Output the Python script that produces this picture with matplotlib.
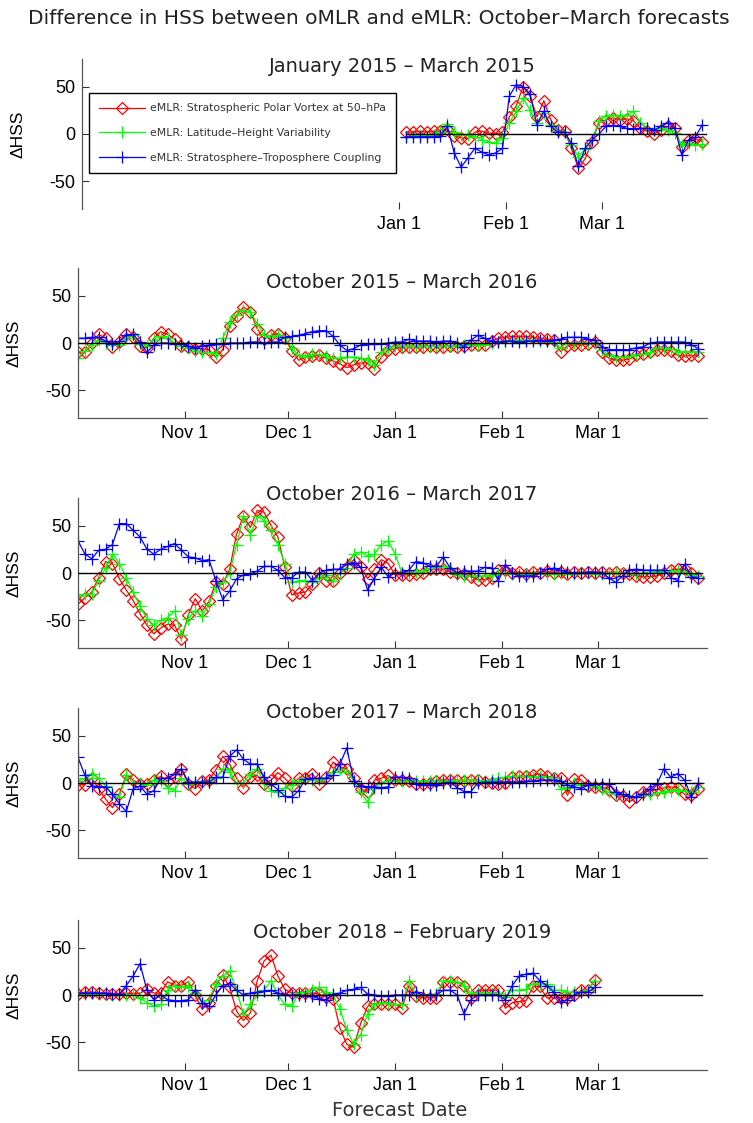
import matplotlib
matplotlib.use('Agg')
import matplotlib.pyplot as plt
import numpy as np

# x axis = days since 1 October
tick_days = [31, 61, 92, 123, 151]
tick_labels = ['Nov 1', 'Dec 1', 'Jan 1', 'Feb 1', 'Mar 1']

titles = ['January 2015 \u2013 March 2015',
          'October 2015 \u2013 March 2016',
          'October 2016 \u2013 March 2017',
          'October 2017 \u2013 March 2018',
          'October 2018 \u2013 February 2019']

names = ['eMLR: Stratospheric Polar Vortex at 50\u2013hPa',
         'eMLR: Latitude\u2013Height Variability',
         'eMLR: Stratosphere\u2013Troposphere Coupling']

# first day of each record (values every 2 days)
start_days = [94, 0, 0, 0, 0]

# ---- Jan 2015 - Mar 2015
red_1 = [2, 2, 3, 2, 3, 3, 5, -2, -4, -5,
         2, 3, 1, 0, 2, 18, 30, 50, 40, 18,
         35, 15, 4, 3, -15, -36, -26, -8, 12, 15,
         17, 15, 16, 14, 6, 3, 0, 4, 8, 6,
         -14, -6, -5, -8]
green_1 = [-3, -2, -1, -2, -1, 2, 11, 2, -1, -1,
           -3, -6, -8, -10, -4, 12, 24, 38, 25, 12,
           22, 9, 3, 2, -12, -24, -16, -6, 14, 19,
           20, 19, 20, 24, 12, 6, 4, 6, 4, 1,
           -12, -10, -12, -11]
blue_1 = [-3, -3, -3, -3, -3, -2, 8, -20, -35, -25,
          -15, -19, -22, -20, -15, 40, 52, 50, 42, 10,
          24, 8, 2, 2, -10, -34, -15, -6, 0, 8,
          9, 8, 6, 5, 6, 6, 4, 8, 12, 6,
          -22, -6, -3, 10]

# ---- Oct 2015 - Mar 2016
red_2 = [-9, -10, 0, 9, 5, -4, 1, 10, 6, -3,
         -5, 5, 12, 9, 4, -3, -4, -6, -6, -7,
         -15, -7, 18, 28, 38, 33, 15, 4, 8, 10,
         5, -8, -18, -15, -14, -13, -16, -19, -22, -26,
         -23, -21, -21, -27, -15, -7, -6, -4, -4, -4,
         -4, -3, -4, -4, -3, -4, -3, -2, -2, -2,
         2, 5, 6, 7, 7, 7, 6, 5, 4, 3,
         -9, -3, -2, -2, -1, 1, -9, -16, -18, -18,
         -17, -13, -12, -10, -7, -7, -8, -13, -14, -13,
         -14]
green_2 = [-16, -8, -2, 3, 0, -2, -2, 5, 8, -1,
           -3, 3, 7, 5, 0, -3, -5, -8, -10, -10,
           -12, 5, 22, 30, 35, 33, 20, 8, 6, 8,
           5, -5, -13, -15, -12, -12, -14, -16, -16, -15,
           -15, -16, -18, -23, -10, -5, -3, -3, -3, -3,
           -3, -3, -3, -3, -3, -3, -2, -2, -2, -2,
           0, 1, 2, 3, 3, 3, 3, 2, 2, 1,
           -5, 0, 0, 0, 0, 0, -7, -13, -15, -15,
           -14, -12, -12, -10, -5, -5, -6, -9, -9, -9,
           -9]
blue_2 = [5, 5, 6, 6, 2, -1, 2, 8, 9, 1,
          -10, -2, 0, 0, -1, -1, -3, -5, -3, -2,
          -1, -1, 0, 0, 0, 1, 1, 0, 1, 1,
          6, 7, 8, 10, 12, 13, 13, 7, -2, -8,
          -6, -2, -1, -1, -1, 0, 1, 1, 4, 2,
          2, 2, 1, 2, 2, 0, -4, 3, 8, 5,
          2, 1, 2, 2, 1, 2, 2, 3, 2, 3,
          4, 6, 6, 6, 4, 3, -4, -7, -7, -7,
          -7, -5, -4, 0, 1, 1, 1, 1, 1, -2,
          -6]

# ---- Oct 2016 - Mar 2017
red_3 = [-33, -26, -20, -5, 12, 10, -6, -18, -29, -43,
         -55, -64, -58, -54, -55, -70, -44, -27, -40, -30,
         -10, -12, 4, 41, 60, 48, 66, 64, 50, 38,
         6, -23, -21, -20, -12, 0, -8, -8, 0, 6,
         14, 6, -6, 4, 14, 10, -2, -2, -2, -1,
         0, 4, 4, 4, 1, 0, -1, -4, -7, -7,
         -5, 3, 3, 0, 1, -1, 1, 0, 2, 0,
         1, -1, 1, 0, 1, 0, 1, 0, 1, 0,
         -1, -3, -4, -4, -3, 0, 3, 4, 4, 0,
         -5]
green_3 = [-24, -22, -22, -8, 5, 20, 10, -5, -20, -35,
           -48, -55, -50, -47, -40, -65, -48, -40, -45, -33,
           -15, -10, 0, 30, 60, 40, 60, 55, 45, 30,
           10, -10, -8, -8, -10, -5, -2, -8, 0, 5,
           20, 22, 18, 20, 30, 34, 20, 0, 0, 1,
           2, 5, 6, 7, 5, -2, -3, -3, -3, -3,
           -2, 0, 0, -1, -1, -1, 0, 0, -1, -1,
           0, -1, -1, 0, 0, -1, -1, 0, 0, 0,
           0, -1, 0, 1, 1, 2, 2, 2, 1, -2,
           -3]
blue_3 = [34, 20, 15, 24, 25, 30, 52, 52, 45, 38,
          25, 20, 25, 28, 31, 24, 17, 16, 13, 14,
          -8, -28, -19, -6, -2, -1, 2, 7, 7, 3,
          -5, -5, 1, 1, -8, 0, 3, 4, 4, 9,
          11, 6, -18, -6, 6, -4, 0, 0, 3, 12,
          11, 7, 7, 17, 5, 0, 2, 2, 2, 6,
          5, -8, 8, 0, -3, -3, -3, 0, 4, 5,
          3, 1, 0, 0, 1, 1, 0, -5, -10, -3,
          3, 4, 3, 3, 3, 3, -5, -8, 9, -4,
          -5]

# ---- Oct 2017 - Mar 2018
red_4 = [-2, -2, 5, -6, -17, -26, -12, 9, 3, -1,
         -1, 3, 7, 2, 6, 15, -1, -6, 2, 3,
         14, 28, 20, 5, -5, 6, 8, -1, 3, 11,
         5, -3, 5, 5, 10, -1, 6, 22, 17, 15,
         5, -6, -10, 3, 5, 8, 3, 3, 2, -1,
         -1, 0, 2, 3, 3, 3, 2, 3, 3, 1,
         0, -1, 0, 6, 7, 7, 8, 10, 7, 5,
         5, -13, 4, 3, -3, -4, -4, -7, -13, -14,
         -20, -15, -9, -8, -7, -5, -4, -5, -12, -13,
         -6]
green_4 = [2, 5, 10, 5, -3, -12, -15, 8, 0, 0,
           -2, 3, 2, -5, -8, 5, -1, 0, 2, 0,
           5, 15, 12, 0, 0, 10, 15, 0, -8, -10,
           -5, -2, 2, 5, 3, 3, 5, 12, 15, 12,
           2, -10, -20, -5, 0, 2, 2, 2, 2, 2,
           2, 2, 2, 2, 2, 3, 3, 3, 3, 2,
           3, 5, 6, 7, 7, 7, 6, 7, 6, 5,
           -6, -5, 0, -2, -3, -3, -6, -10, -12, -12,
           -14, -15, -13, -12, -11, -9, -8, -7, -8, -10,
           -4]
blue_4 = [27, 8, -3, -4, -4, -12, -22, -30, -6, -3,
          -12, -8, 5, 5, 9, 15, 1, 1, 1, 1,
          6, 6, 28, 35, 25, 20, 20, 6, -1, -7,
          -14, -15, -8, 4, 5, 5, 5, 8, 20, 37,
          2, -3, -4, -4, -5, -4, 6, 6, 5, -1,
          -2, -2, -2, 0, 1, -5, -9, -9, 0, 1,
          1, 1, 1, 1, 1, 2, 2, 3, 3, 3,
          2, -2, -4, -6, -2, -1, -1, -1, -10, -12,
          -14, -15, -12, -6, -1, 15, 6, 10, 3, -15,
          0]

# ---- Oct 2018 - Feb 2019
red_5 = [1, 3, 3, 2, 1, 1, 1, 2, 1, 2,
         6, 2, 2, 14, 10, 10, 14, 0, -15, -8,
         10, 21, 8, -17, -27, -19, 15, 36, 42, 20,
         6, 2, 2, 2, 2, 1, -2, -4, -35, -52,
         -55, -30, -12, -9, -9, -9, -9, -14, 10, -1,
         -3, -3, -3, 14, 14, 14, 10, -3, 5, 5,
         5, 5, -14, -8, -7, -6, 9, 9, -3, -3,
         -3, -3, 0, 5, 5, 16]
green_5 = [1, 1, 2, 1, 1, 0, 0, 0, 0, -3,
           -8, -12, -10, 5, 10, 8, 10, 2, -8, -5,
           12, 20, 25, 5, -20, -10, 0, 5, 15, 0,
           -10, -12, 2, 3, 5, 8, 3, 0, -15, -37,
           -52, -42, -20, -10, -8, -8, -10, -10, 15, 0,
           0, 0, 1, 15, 15, 14, 10, 2, 2, 2,
           2, 2, -2, 5, 5, 6, 12, 12, 12, 5,
           5, 3, 3, 3, 5, 15]
blue_5 = [2, 2, 2, 2, 2, 1, 1, 10, 20, 33,
          5, -5, 0, -5, -6, -6, -5, 5, -8, -12,
          0, 10, 12, 5, 0, 2, 3, 4, 5, 2,
          0, 0, 0, -1, -1, -4, -5, 1, 2, 5,
          6, 8, 1, 0, -1, -1, 0, 0, 0, 3,
          0, 0, 0, 5, 5, 0, -20, -5, 0, 0,
          0, 0, -5, 10, 20, 22, 23, 15, 10, 3,
          -7, -5, 0, 3, 3, 8]

reds = [red_1, red_2, red_3, red_4, red_5]
greens = [green_1, green_2, green_3, green_4, green_5]
blues = [blue_1, blue_2, blue_3, blue_4, blue_5]

# axes boxes in pixels (left, bottom-from-top, right) and title centres
W, H = 753, 1123
boxes = [(82, 209, 711), (78, 418, 707), (78, 648, 707), (78, 858, 707), (78, 1070, 707)]
title_y = [66, 282, 495, 712, 932]
ax_h = 150

plt.rcParams['font.family'] = ['DejaVu Sans']
fig = plt.figure(figsize=(W / 100, H / 100), dpi=100)

fig.text(379 / W, 1 - 19 / H, 'Difference in HSS between oMLR and eMLR: October\u2013March forecasts',
         ha='center', va='center', fontsize=14.5, color='#222222')

for i in range(5):
    l, b, r = boxes[i]
    ax = fig.add_axes([l / W, 1 - b / H, (r - l) / W, ax_h / H])
    x0 = start_days[i]
    for vals, col, mk, ms in [(reds[i], '#ff0000', 'D', 6.5),
                              (greens[i], '#00ff00', '+', 8.5),
                              (blues[i], '#0000ff', '+', 8.5)]:
        xs = x0 + 2 * np.arange(len(vals))
        ax.plot(xs, vals, color=col, marker=mk, markersize=ms, markerfacecolor='none',
                markeredgewidth=0.9, linewidth=0.9)
    ax.plot([x0, 181], [0, 0], color='k', linewidth=1, zorder=5)
    ax.set_xlim(0, 182.5)
    ax.set_ylim(-79, 79)
    if i == 0:
        # first season only starts in January
        ax.set_xticks(tick_days[2:])
        ax.set_xticklabels(tick_labels[2:], family='Liberation Sans')
        ax.spines['bottom'].set_visible(False)
    else:
        ax.set_xticks(tick_days)
        ax.set_xticklabels(tick_labels, family='Liberation Sans')
    ax.set_yticks([-50, 0, 50])
    ax.set_yticklabels(['-50', '0', '50'], family='Liberation Sans')
    ax.tick_params(direction='in', length=5, labelsize=13, width=0.8, color='#333333', pad=5)
    for s in ['top', 'right']:
        ax.spines[s].set_visible(False)
    for s in ['left', 'bottom']:
        ax.spines[s].set_color('#555555')
        ax.spines[s].set_linewidth(0.9)
    ax.set_ylabel('\u0394HSS', fontsize=12.5, family='Liberation Sans')
    ax.yaxis.set_label_coords(-0.09, 0.5)
    fig.text(402 / W, 1 - title_y[i] / H, titles[i], ha='center', va='center',
             fontsize=14, color='#222222')
    if i == 0:
        leg = ax.legend(names, loc='upper left', bbox_to_anchor=(0.011, 0.773),
                        borderaxespad=0, fontsize=7.8, fancybox=False, edgecolor='k',
                        framealpha=1, handlelength=4.2, handletextpad=0.5,
                        labelspacing=1.35, borderpad=0.95)
        leg.get_frame().set_linewidth(1.0)
        for t in leg.get_texts():
            t.set_color('#333333')

fig.text(400 / W, 1 - 1110 / H, 'Forecast Date', ha='center', va='center',
         fontsize=14, color='#333333')

fig.savefig('out.png', dpi=100)
